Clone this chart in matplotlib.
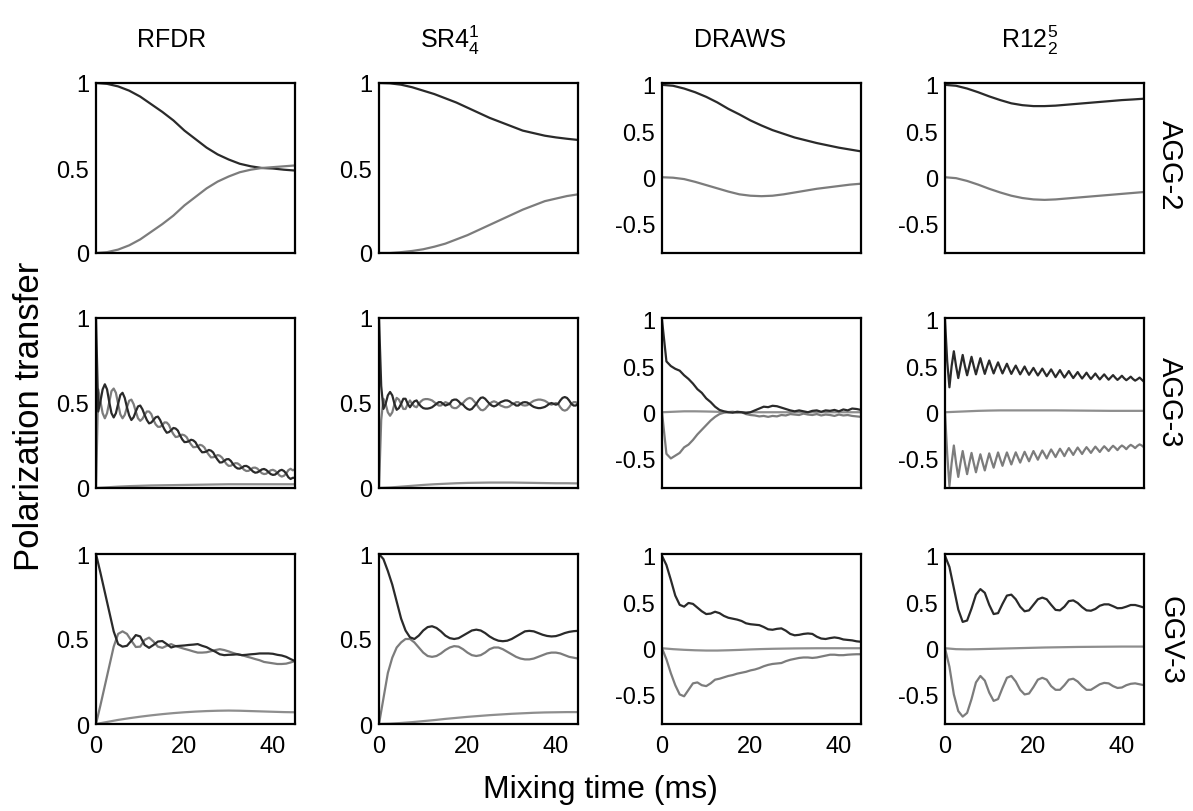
import numpy as np
import matplotlib.pyplot as plt

plt.rcParams['font.family'] = ['Liberation Sans', 'DejaVu Sans']
plt.rcParams['mathtext.fontset'] = 'custom'
plt.rcParams['mathtext.rm'] = 'Liberation Sans'
plt.rcParams['mathtext.it'] = 'Liberation Sans'

# time grids (ms)
t_coarse = np.arange(0, 45.01, 2.5)
t_fine = np.arange(0, 45.01, 0.5)
t_med = np.arange(0, 45.01, 1.0)

columns = ['RFDR', 'SR4$_{4}^{1}$', 'DRAWS', 'R12$_{2}^{5}$']
rows = ['AGG-2', 'AGG-3', 'GGV-3']

# ---- AGG-2 (t_coarse) ----
agg2_rfdr_a = [1.0, 0.995, 0.98, 0.955, 0.92, 0.875, 0.83, 0.78, 0.72, 0.67, 0.62, 0.58, 0.55, 0.525, 0.51, 0.50, 0.497, 0.49, 0.485]
agg2_rfdr_b = [0.0, 0.005, 0.02, 0.045, 0.08, 0.125, 0.17, 0.22, 0.28, 0.33, 0.38, 0.42, 0.45, 0.475, 0.49, 0.50, 0.505, 0.51, 0.515]
agg2_sr4_a = [1.0, 0.998, 0.99, 0.975, 0.955, 0.935, 0.91, 0.885, 0.855, 0.825, 0.795, 0.77, 0.745, 0.72, 0.705, 0.69, 0.68, 0.672, 0.665]
agg2_sr4_b = [0.0, 0.0, 0.005, 0.012, 0.022, 0.037, 0.055, 0.08, 0.105, 0.135, 0.165, 0.195, 0.225, 0.255, 0.28, 0.305, 0.32, 0.335, 0.345]
agg2_draws_a = [1.0, 0.99, 0.96, 0.92, 0.87, 0.81, 0.74, 0.68, 0.615, 0.56, 0.51, 0.47, 0.43, 0.40, 0.37, 0.345, 0.32, 0.30, 0.28]
agg2_draws_b = [0.0, -0.005, -0.02, -0.05, -0.085, -0.12, -0.155, -0.185, -0.2, -0.205, -0.2, -0.185, -0.165, -0.145, -0.125, -0.11, -0.095, -0.08, -0.07]
agg2_r12_a = [1.0, 0.99, 0.96, 0.92, 0.875, 0.835, 0.80, 0.78, 0.77, 0.77, 0.775, 0.785, 0.795, 0.805, 0.815, 0.825, 0.835, 0.842, 0.85]
agg2_r12_b = [0.0, -0.01, -0.04, -0.08, -0.125, -0.165, -0.2, -0.225, -0.24, -0.245, -0.24, -0.23, -0.22, -0.21, -0.2, -0.19, -0.18, -0.17, -0.16]

# ---- AGG-3 ----
agg3_rfdr_a = [1.00, 0.45, 0.51, 0.58, 0.61, 0.58, 0.505, 0.44, 0.415, 0.44, 0.495, 0.547, 0.56, 0.53, 0.475, 0.427,
               0.40, 0.416, 0.45, 0.48, 0.485, 0.463, 0.43, 0.40, 0.38, 0.385, 0.40, 0.416, 0.42, 0.40, 0.37, 0.344,
               0.325, 0.329, 0.34, 0.353, 0.35, 0.338, 0.31, 0.286, 0.27, 0.271, 0.275, 0.284, 0.28, 0.269, 0.245,
               0.226, 0.21, 0.211, 0.215, 0.224, 0.22, 0.209, 0.185, 0.166, 0.15, 0.151, 0.16, 0.169, 0.17, 0.159,
               0.14, 0.124, 0.115, 0.114, 0.12, 0.129, 0.13, 0.123, 0.11, 0.097, 0.09, 0.092, 0.10, 0.109, 0.112,
               0.106, 0.094, 0.082, 0.077, 0.079, 0.089, 0.102, 0.107, 0.10, 0.085, 0.063, 0.053, 0.06, 0.06]
agg3_rfdr_b = [0.0, 0.58, 0.51, 0.44, 0.41, 0.44, 0.505, 0.57, 0.585, 0.56, 0.495, 0.433, 0.41, 0.43, 0.475, 0.513,
               0.52, 0.494, 0.45, 0.41, 0.395, 0.407, 0.43, 0.45, 0.45, 0.435, 0.40, 0.374, 0.36, 0.36, 0.37, 0.386,
               0.385, 0.371, 0.34, 0.317, 0.30, 0.302, 0.31, 0.314, 0.31, 0.299, 0.275, 0.256, 0.24, 0.241, 0.245,
               0.254, 0.25, 0.239, 0.215, 0.196, 0.18, 0.181, 0.185, 0.194, 0.19, 0.179, 0.16, 0.141, 0.13, 0.131,
               0.14, 0.146, 0.145, 0.136, 0.12, 0.107, 0.10, 0.101, 0.11, 0.119, 0.12, 0.114, 0.10, 0.087, 0.082,
               0.084, 0.094, 0.104, 0.107, 0.101, 0.089, 0.074, 0.067, 0.072, 0.085, 0.105, 0.113, 0.104, 0.11]
agg3_rfdr_c = [0.0, 0.004, 0.008, 0.011, 0.013, 0.015, 0.016, 0.017, 0.018, 0.019, 0.02, 0.021, 0.022, 0.022, 0.022, 0.022, 0.022, 0.022, 0.022]

agg3_sr4_a = [1.0, 0.6, 0.465, 0.495, 0.545, 0.565, 0.545, 0.495, 0.46, 0.47, 0.495, 0.525, 0.525, 0.495, 0.475, 0.495,
              0.51, 0.515, 0.495, 0.48, 0.47, 0.467, 0.467, 0.47, 0.475, 0.485, 0.495, 0.505, 0.505, 0.495, 0.485,
              0.49, 0.495, 0.515, 0.52, 0.52, 0.51, 0.495, 0.49, 0.475, 0.465, 0.46, 0.465, 0.48, 0.495, 0.515, 0.53,
              0.533, 0.525, 0.51, 0.495, 0.485, 0.48, 0.485, 0.495, 0.505, 0.51, 0.515, 0.515, 0.51, 0.5, 0.495,
              0.485, 0.485, 0.495, 0.503, 0.505, 0.503, 0.495, 0.485, 0.477, 0.473, 0.47, 0.47, 0.473, 0.477, 0.485,
              0.495, 0.5, 0.495, 0.49, 0.495, 0.515, 0.53, 0.535, 0.53, 0.515, 0.495, 0.485, 0.485, 0.495]
agg3_sr4_b = [0.0, 0.4, 0.525, 0.495, 0.445, 0.425, 0.445, 0.495, 0.53, 0.52, 0.495, 0.465, 0.465, 0.495, 0.515, 0.495,
              0.48, 0.475, 0.495, 0.51, 0.52, 0.523, 0.523, 0.52, 0.515, 0.505, 0.495, 0.485, 0.485, 0.495, 0.505,
              0.50, 0.495, 0.475, 0.47, 0.47, 0.48, 0.495, 0.50, 0.515, 0.525, 0.53, 0.525, 0.51, 0.495, 0.475, 0.46,
              0.457, 0.465, 0.48, 0.495, 0.505, 0.51, 0.505, 0.495, 0.485, 0.48, 0.475, 0.475, 0.48, 0.49, 0.495,
              0.505, 0.505, 0.495, 0.487, 0.485, 0.487, 0.495, 0.505, 0.513, 0.517, 0.52, 0.52, 0.517, 0.513, 0.505,
              0.495, 0.49, 0.495, 0.50, 0.495, 0.475, 0.46, 0.455, 0.46, 0.475, 0.495, 0.505, 0.505, 0.495]
agg3_sr4_c = [0.0, 0.003, 0.008, 0.013, 0.018, 0.022, 0.025, 0.028, 0.03, 0.031, 0.032, 0.032, 0.032, 0.031, 0.03, 0.029, 0.028, 0.028, 0.027]

agg3_draws_a = [1.0, 0.55, 0.5, 0.47, 0.45, 0.40, 0.36, 0.31, 0.25, 0.21, 0.15, 0.11, 0.06, 0.025, 0.01, 0.0, -0.005,
                0.005, 0.0, -0.01, 0.0, 0.02, 0.04, 0.06, 0.055, 0.07, 0.065, 0.05, 0.035, 0.02, 0.01, 0.02, 0.01, 0.0,
                0.015, 0.02, 0.005, 0.02, 0.015, 0.025, 0.01, 0.03, 0.02, 0.04, 0.035, 0.025]
agg3_draws_b = [0.0, -0.45, -0.5, -0.47, -0.44, -0.38, -0.35, -0.30, -0.24, -0.19, -0.14, -0.09, -0.05, -0.02, -0.005,
                0.0, 0.005, -0.005, 0.0, -0.02, -0.03, -0.035, -0.045, -0.04, -0.05, -0.04, -0.045, -0.03, -0.035,
                -0.02, -0.025, -0.03, -0.015, -0.025, -0.03, -0.02, -0.035, -0.025, -0.03, -0.04, -0.025, -0.035,
                -0.03, -0.04, -0.045, -0.05]
agg3_draws_c = [0.0, 0.005, 0.01, 0.01, 0.008, 0.005, 0.003, 0.002, 0.0, 0.0, 0.0, 0.0, 0.0, 0.0, 0.0, 0.0, 0.0, 0.0, 0.0]

agg3_r12_a = [1.0, 0.55, 0.27, 0.50, 0.66, 0.50, 0.37, 0.50, 0.62, 0.50, 0.40, 0.50, 0.60, 0.50, 0.41, 0.50, 0.585,
              0.497, 0.415, 0.492, 0.56, 0.488, 0.42, 0.483, 0.54, 0.478, 0.42, 0.473, 0.525, 0.468, 0.415, 0.462,
              0.505, 0.457, 0.41, 0.452, 0.495, 0.447, 0.405, 0.442, 0.48, 0.438, 0.398, 0.434, 0.472, 0.43, 0.39,
              0.426, 0.464, 0.422, 0.38, 0.418, 0.456, 0.414, 0.376, 0.41, 0.446, 0.406, 0.37, 0.402, 0.435, 0.398,
              0.365, 0.395, 0.428, 0.392, 0.36, 0.389, 0.419, 0.386, 0.355, 0.383, 0.41, 0.38, 0.352, 0.377, 0.402,
              0.374, 0.35, 0.371, 0.395, 0.368, 0.347, 0.365, 0.385, 0.36, 0.342, 0.357, 0.375, 0.352, 0.33]
agg3_r12_b = [0.0, -0.45, -0.80, -0.55, -0.36, -0.55, -0.70, -0.55, -0.42, -0.55, -0.67, -0.55, -0.44, -0.55, -0.65,
              -0.55, -0.455, -0.545, -0.63, -0.535, -0.445, -0.525, -0.60, -0.515, -0.435, -0.51, -0.58, -0.505,
              -0.435, -0.50, -0.565, -0.497, -0.434, -0.49, -0.545, -0.485, -0.428, -0.48, -0.531, -0.474, -0.42,
              -0.467, -0.514, -0.461, -0.414, -0.455, -0.50, -0.449, -0.403, -0.443, -0.485, -0.438, -0.395, -0.433,
              -0.475, -0.428, -0.388, -0.424, -0.462, -0.42, -0.382, -0.416, -0.452, -0.412, -0.378, -0.408, -0.44,
              -0.404, -0.372, -0.40, -0.43, -0.396, -0.368, -0.392, -0.42, -0.388, -0.363, -0.384, -0.41, -0.38,
              -0.36, -0.376, -0.40, -0.372, -0.353, -0.368, -0.388, -0.364, -0.348, -0.36, -0.38]
agg3_r12_c = [0.0, 0.005, 0.01, 0.015, 0.018, 0.02, 0.02, 0.02, 0.02, 0.02, 0.02, 0.019, 0.018, 0.017, 0.016, 0.015, 0.015, 0.015, 0.015]

# ---- GGV-3 (t_med) ----
ggv3_rfdr_a = [1.0, 0.89, 0.775, 0.66, 0.545, 0.47, 0.455, 0.46, 0.49, 0.523, 0.515, 0.465, 0.448, 0.465, 0.485,
               0.488, 0.47, 0.45, 0.458, 0.46, 0.462, 0.465, 0.467, 0.47, 0.46, 0.452, 0.438, 0.425, 0.41, 0.405,
               0.407, 0.408, 0.41, 0.405, 0.407, 0.41, 0.412, 0.415, 0.415, 0.415, 0.413, 0.407, 0.403, 0.395, 0.382, 0.37]
ggv3_rfdr_b = [0.0, 0.11, 0.225, 0.34, 0.455, 0.53, 0.545, 0.53, 0.49, 0.453, 0.455, 0.495, 0.508, 0.485, 0.455,
               0.448, 0.46, 0.47, 0.458, 0.45, 0.442, 0.435, 0.427, 0.42, 0.42, 0.422, 0.428, 0.435, 0.44, 0.435,
               0.427, 0.418, 0.41, 0.405, 0.397, 0.39, 0.382, 0.375, 0.365, 0.361, 0.357, 0.353, 0.353, 0.355, 0.362, 0.37]
ggv3_rfdr_c = [0.0, 0.012, 0.024, 0.034, 0.043, 0.051, 0.058, 0.064, 0.069, 0.073, 0.076, 0.078, 0.079, 0.078, 0.076, 0.074, 0.072, 0.07, 0.069]

ggv3_sr4_a = [1.0, 0.97, 0.9, 0.82, 0.72, 0.62, 0.55, 0.51, 0.5, 0.52, 0.55, 0.57, 0.575, 0.565, 0.545, 0.52, 0.505,
              0.5, 0.505, 0.52, 0.535, 0.55, 0.555, 0.55, 0.535, 0.515, 0.5, 0.49, 0.487, 0.49, 0.5, 0.515, 0.53,
              0.545, 0.548, 0.545, 0.535, 0.525, 0.518, 0.515, 0.517, 0.525, 0.535, 0.542, 0.546, 0.548]
ggv3_sr4_b = [0.0, 0.15, 0.3, 0.39, 0.45, 0.48, 0.5, 0.5, 0.48, 0.45, 0.42, 0.40, 0.395, 0.40, 0.415, 0.435, 0.45,
              0.458, 0.455, 0.44, 0.42, 0.405, 0.40, 0.405, 0.42, 0.44, 0.45, 0.45, 0.44, 0.425, 0.41, 0.395, 0.385,
              0.38, 0.38, 0.385, 0.395, 0.405, 0.415, 0.42, 0.42, 0.415, 0.405, 0.395, 0.39, 0.385]
ggv3_sr4_c = [0.0, 0.002, 0.006, 0.011, 0.017, 0.023, 0.03, 0.036, 0.042, 0.047, 0.052, 0.056, 0.06, 0.063, 0.066, 0.068, 0.069, 0.07, 0.07]

ggv3_draws_a = [1.0, 0.9, 0.74, 0.57, 0.47, 0.45, 0.49, 0.48, 0.44, 0.40, 0.37, 0.375, 0.395, 0.38, 0.35, 0.33, 0.32,
                0.31, 0.295, 0.27, 0.26, 0.255, 0.25, 0.23, 0.205, 0.2, 0.21, 0.215, 0.19, 0.155, 0.14, 0.145, 0.155,
                0.16, 0.155, 0.125, 0.105, 0.1, 0.11, 0.117, 0.11, 0.095, 0.09, 0.085, 0.075, 0.07]
ggv3_draws_b = [0.0, -0.12, -0.27, -0.4, -0.5, -0.52, -0.45, -0.38, -0.37, -0.4, -0.41, -0.38, -0.34, -0.33, -0.315,
                -0.3, -0.29, -0.275, -0.265, -0.255, -0.24, -0.23, -0.215, -0.195, -0.18, -0.17, -0.165, -0.16,
                -0.14, -0.125, -0.115, -0.105, -0.1, -0.1, -0.105, -0.1, -0.09, -0.08, -0.07, -0.07, -0.075,
                -0.075, -0.07, -0.067, -0.065, -0.065]
ggv3_draws_c = [0.0, -0.01, -0.017, -0.022, -0.025, -0.025, -0.022, -0.018, -0.013, -0.009, -0.006, -0.004, -0.002, -0.001, 0.0, 0.0, 0.0, 0.0, 0.0]

ggv3_r12_a = [1.0, 0.88, 0.65, 0.42, 0.285, 0.3, 0.43, 0.58, 0.64, 0.6, 0.47, 0.37, 0.38, 0.48, 0.57, 0.58, 0.53, 0.45,
              0.40, 0.41, 0.47, 0.53, 0.548, 0.53, 0.47, 0.415, 0.41, 0.45, 0.51, 0.518, 0.49, 0.445, 0.41, 0.406,
              0.425, 0.46, 0.475, 0.475, 0.455, 0.433, 0.435, 0.45, 0.468, 0.468, 0.455, 0.44]
ggv3_r12_b = [0.0, -0.2, -0.5, -0.68, -0.74, -0.7, -0.55, -0.37, -0.3, -0.35, -0.48, -0.57, -0.55, -0.43, -0.32, -0.3,
              -0.36, -0.45, -0.5, -0.49, -0.42, -0.34, -0.32, -0.34, -0.41, -0.45, -0.45, -0.4, -0.34, -0.33, -0.36,
              -0.41, -0.45, -0.45, -0.42, -0.39, -0.375, -0.38, -0.41, -0.43, -0.425, -0.4, -0.385, -0.38, -0.39, -0.4]
ggv3_r12_c = [0.0, -0.01, -0.012, -0.01, -0.007, -0.004, -0.001, 0.002, 0.005, 0.008, 0.01, 0.012, 0.014, 0.015, 0.016, 0.017, 0.018, 0.018, 0.018]

DARK = '#2a2a2a'
GRAY = '#7c7c7c'
LIGHT = '#8e8e8e'

panels = [
    [[(t_coarse, agg2_rfdr_a, DARK), (t_coarse, agg2_rfdr_b, GRAY)],
     [(t_coarse, agg2_sr4_a, DARK), (t_coarse, agg2_sr4_b, GRAY)],
     [(t_coarse, agg2_draws_a, DARK), (t_coarse, agg2_draws_b, GRAY)],
     [(t_coarse, agg2_r12_a, DARK), (t_coarse, agg2_r12_b, GRAY)]],
    [[(t_coarse, agg3_rfdr_c, LIGHT), (t_fine, agg3_rfdr_b, GRAY), (t_fine, agg3_rfdr_a, DARK)],
     [(t_coarse, agg3_sr4_c, LIGHT), (t_fine, agg3_sr4_b, GRAY), (t_fine, agg3_sr4_a, DARK)],
     [(t_coarse, agg3_draws_c, LIGHT), (t_med, agg3_draws_b, GRAY), (t_med, agg3_draws_a, DARK)],
     [(t_coarse, agg3_r12_c, LIGHT), (t_fine, agg3_r12_b, GRAY), (t_fine, agg3_r12_a, DARK)]],
    [[(t_coarse, ggv3_rfdr_c, LIGHT), (t_med, ggv3_rfdr_b, GRAY), (t_med, ggv3_rfdr_a, DARK)],
     [(t_coarse, ggv3_sr4_c, LIGHT), (t_med, ggv3_sr4_b, GRAY), (t_med, ggv3_sr4_a, DARK)],
     [(t_coarse, ggv3_draws_c, LIGHT), (t_med, ggv3_draws_b, GRAY), (t_med, ggv3_draws_a, DARK)],
     [(t_coarse, ggv3_r12_c, LIGHT), (t_med, ggv3_r12_b, GRAY), (t_med, ggv3_r12_a, DARK)]],
]

W, H = 1193, 812
fig = plt.figure(figsize=(W / 100, H / 100), dpi=100)

col_left = [96, 379, 662, 945]
row_top = [84, 319, 555]
aw, ah = 199, 170

for r in range(3):
    for c in range(4):
        ax = fig.add_axes([col_left[c] / W, 1 - (row_top[r] + ah) / H, aw / W, ah / H])
        for t, y, color in panels[r][c]:
            ax.plot(t, y, color=color, lw=1.6, solid_joinstyle='round')
        ax.set_xlim(0, 45)
        if c < 2:
            ax.set_ylim(0, 1)
            ax.set_yticks([0, 0.5, 1])
            ax.set_yticklabels(['0', '0.5', '1'])
        else:
            ax.set_ylim(-0.82, 1.02)
            ax.set_yticks([-0.5, 0, 0.5, 1])
            ax.set_yticklabels(['-0.5', '0', '0.5', '1'])
        ax.set_xticks([0, 20, 40])
        if r < 2:
            ax.set_xticklabels([])
        ax.tick_params(axis='y', length=0, labelsize=17, pad=5)
        ax.tick_params(axis='x', length=0, labelsize=17, pad=8)
        for s in ax.spines.values():
            s.set_linewidth(1.6)

title_x = [172, 450, 740, 1030]
for c in range(4):
    fig.text(title_x[c] / W, 1 - 40 / H, columns[c], ha='center', va='center', fontsize=18)

row_y = [165, 402, 640]
for r in range(3):
    fig.text(1170 / W, 1 - row_y[r] / H, rows[r], ha='center', va='center', rotation=-90, fontsize=21)

fig.text(30 / W, 1 - 416 / H, 'Polarization transfer', rotation=90, ha='center', va='center', fontsize=25)
fig.text(600 / W, 1 - 790 / H, 'Mixing time (ms)', ha='center', va='center', fontsize=23)

fig.savefig('out.png', dpi=100)
